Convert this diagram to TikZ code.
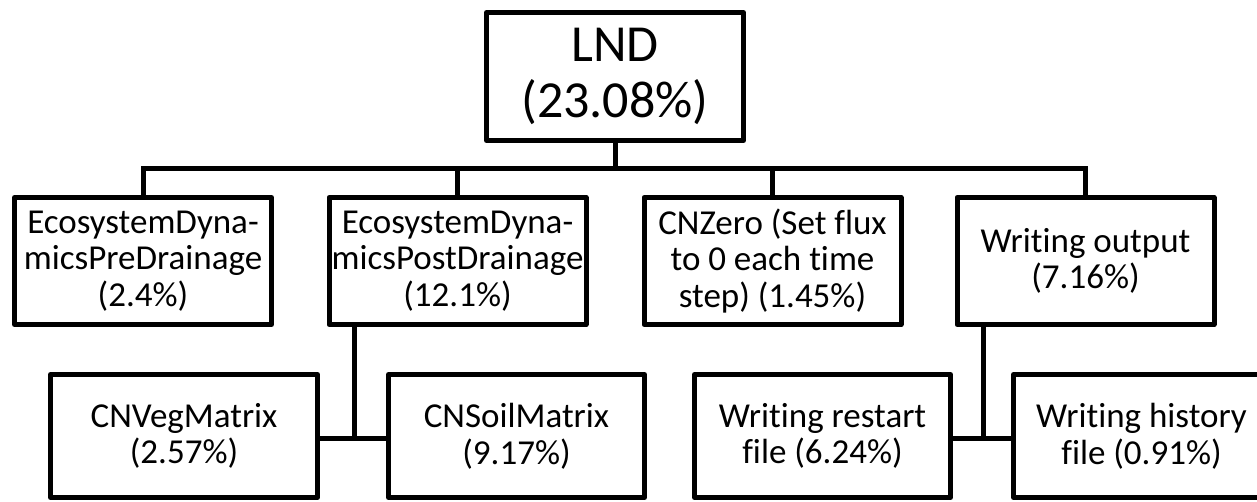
\documentclass[tikz,border=0pt]{standalone}
\usepackage{fontspec}
\setmainfont{Carlito}[Ligatures=NoCommon]
\begin{document}
\begin{tikzpicture}[x=0.75pt,y=-0.75pt,
  box/.style={draw, line width=3.75pt, line join=round, rectangle, inner sep=0pt,
    align=center, font=\fontsize{26.25}{27.5}\selectfont},
  toplevel/.style={box, minimum width=192.75pt, minimum height=96pt,
    font=\fontsize{39}{42}\selectfont},
  midlevel/.style={box, minimum width=192.75pt, minimum height=95.25pt},
  lowlevel/.style={box, minimum height=92.25pt},
  link/.style={line width=3.75pt}]
\useasboundingbox (0,0) rectangle (1257,502);
\clip (0,0) rectangle (1257,502);

% root
\node[toplevel] (lnd) at (615,76.5) {LND\\(23.08\%)};

% first level
\node[midlevel] (pre)  at (143,261)    {EcosystemDyna-\\micsPreDrainage\\(2.4\%)};
\node[midlevel] (post) at (457.5,261)  {EcosystemDyna-\\micsPostDrainage\\(12.1\%)};
\node[midlevel] (zero) at (772.5,261)  {CNZero (Set flux\\to 0 each time\\step) (1.45\%)};
\node[midlevel] (out)  at (1085.5,261) {Writing output\\(7.16\%)};

% second level
\node[lowlevel, minimum width=200.25pt] (veg)  at (184,436)    {CNVegMatrix\\(2.57\%)};
\node[lowlevel, minimum width=192pt]    (soil) at (516.5,436)  {CNSoilMatrix\\(9.17\%)};
\node[lowlevel, minimum width=192pt]    (rst)  at (822.5,436)  {Writing restart\\file (6.24\%)};
\node[lowlevel, minimum width=192pt]    (hist) at (1141.5,436) {Writing history\\file (0.91\%)};

% bus from the root to the first level
\coordinate (bus) at (615,169);
\draw[link] (lnd.south) -- (lnd.south |- bus);
\draw[link] (pre.north) -- (pre.north |- bus) -- (out.north |- bus) -- (out.north);
\draw[link] (post.north) -- (post.north |- bus);
\draw[link] (zero.north) -- (zero.north |- bus);

% joints under the first level
\coordinate (jpost) at (354,438);
\coordinate (jout) at (983,438);
\draw[link] (jpost |- post.south) -- (jpost);
\draw[link] (veg.east |- jpost) -- (soil.west |- jpost);
\draw[link] (jout |- out.south) -- (jout);
\draw[link] (rst.east |- jout) -- (hist.west |- jout);
\end{tikzpicture}
\end{document}
